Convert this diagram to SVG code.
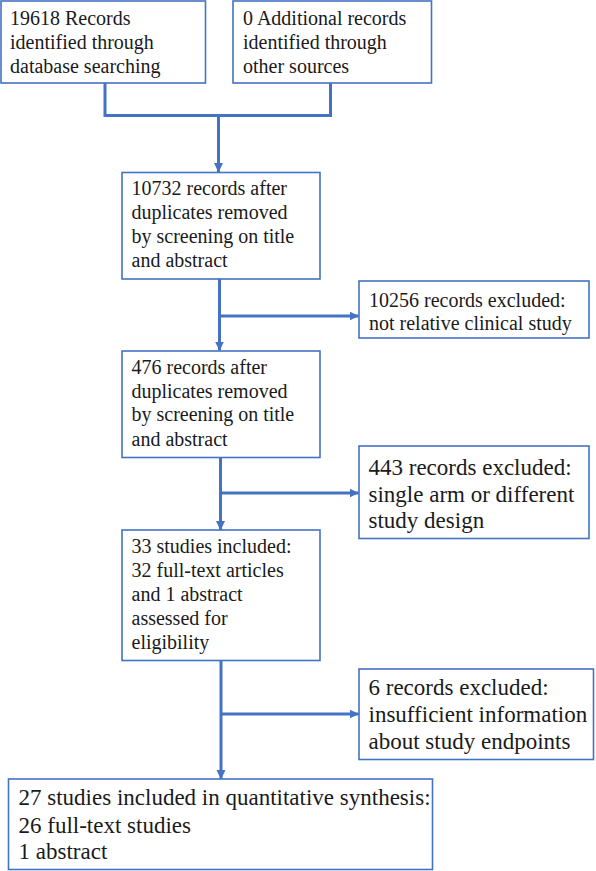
<svg xmlns="http://www.w3.org/2000/svg" width="596" height="871" viewBox="0 0 596 871">
<style>
.box{fill:#fff;stroke:#4472C4;stroke-width:1.6}
text{fill:#1a1a1a;font-family:"Times New Roman","Liberation Serif",serif}
.t{font-size:20px}
.tl{font-size:23px}
.c{fill:none;stroke:#4472C4;stroke-width:3}
</style>
<defs>
<marker id="ah" markerUnits="userSpaceOnUse" markerWidth="10" markerHeight="10" viewBox="0 0 10 10" refX="9" refY="5" orient="auto">
<path d="M0,0.5 L9.5,5 L0,9.5 Z" fill="#4472C4"/>
</marker>
</defs>
<rect width="596" height="871" fill="#fff"/>
<g id="connectors">
<polyline class="c" points="105,83 105,115.5 330.5,115.5 330.5,83"/>
<line class="c" x1="218.5" y1="115.5" x2="218.5" y2="172" marker-end="url(#ah)"/>
<line class="c" x1="219.5" y1="279" x2="219.5" y2="350.5" marker-end="url(#ah)"/>
<line class="c" x1="219.5" y1="316" x2="358.5" y2="316" marker-end="url(#ah)"/>
<line class="c" x1="220.5" y1="457.5" x2="220.5" y2="530" marker-end="url(#ah)"/>
<line class="c" x1="220.5" y1="493" x2="358.5" y2="493" marker-end="url(#ah)"/>
<line class="c" x1="221" y1="661" x2="221" y2="779" marker-end="url(#ah)"/>
<line class="c" x1="221" y1="714" x2="358.5" y2="714" marker-end="url(#ah)"/>
</g>
<g id="n1">
<rect class="box" x="1" y="1" width="204.5" height="82"/>
<text class="t" x="10" y="25">19618 Records</text>
<text class="t" x="10" y="49">identified through</text>
<text class="t" x="10" y="73">database searching</text>
</g>
<g id="n2">
<rect class="box" x="233" y="1" width="198.5" height="82"/>
<text class="t" x="243" y="25">0 Additional records</text>
<text class="t" x="243" y="49">identified through</text>
<text class="t" x="243" y="73">other sources</text>
</g>
<g id="n3">
<rect class="box" x="122" y="172.5" width="198" height="106.5"/>
<text class="t" x="131.5" y="195">10732 records after</text>
<text class="t" x="131.5" y="219">duplicates removed</text>
<text class="t" x="131.5" y="243">by screening on title</text>
<text class="t" x="131.5" y="267">and abstract</text>
</g>
<g id="n4">
<rect class="box" x="359" y="281" width="230" height="57"/>
<text class="t" x="369" y="306.5">10256 records excluded:</text>
<text class="t" x="369" y="330">not relative clinical study</text>
</g>
<g id="n5">
<rect class="box" x="122" y="351" width="198" height="106.5"/>
<text class="t" x="131.5" y="373.5">476 records after</text>
<text class="t" x="131.5" y="397.5">duplicates removed</text>
<text class="t" x="131.5" y="421">by screening on title</text>
<text class="t" x="131.5" y="445.5">and abstract</text>
</g>
<g id="n6">
<rect class="box" x="359" y="446" width="230" height="92.5"/>
<text class="tl" x="368.5" y="475">443 records excluded:</text>
<text class="tl" x="368.5" y="501.5">single arm or different</text>
<text class="tl" x="368.5" y="527.5">study design</text>
</g>
<g id="n7">
<rect class="box" x="122" y="530" width="198" height="130.5"/>
<text class="t" x="131.5" y="553">33 studies included:</text>
<text class="t" x="131.5" y="577">32 full-text articles</text>
<text class="t" x="131.5" y="601">and 1 abstract</text>
<text class="t" x="131.5" y="625">assessed for</text>
<text class="t" x="131.5" y="649">eligibility</text>
</g>
<g id="n8">
<rect class="box" x="359" y="669" width="234.5" height="90.5"/>
<text class="tl" x="368.5" y="694.5">6 records excluded:</text>
<text class="tl" x="368.5" y="721.5">insufficient information</text>
<text class="tl" x="368.5" y="749">about study endpoints</text>
</g>
<g id="n9">
<rect class="box" x="8.5" y="779" width="424" height="90.5"/>
<text class="tl" x="18.5" y="805">27 studies included in quantitative synthesis:</text>
<text class="tl" x="18.5" y="832.5">26 full-text studies</text>
<text class="tl" x="18.5" y="858.5">1 abstract</text>
</g>
</svg>
